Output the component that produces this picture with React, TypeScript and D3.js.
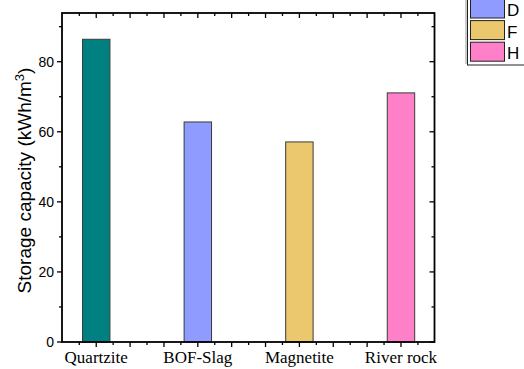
import React from 'react';
import * as d3 from 'd3';

// chart data
const categories = ['Quartzite', 'BOF-Slag', 'Magnetite', 'River rock'];
const capacity = [86.4, 62.8, 57.1, 71.1];
const barColors = ['#008080', '#8f9bff', '#ebc76e', '#ff80c8'];
const yTicks = [0, 20, 40, 60, 80];
const legendLabels = ['D', 'F', 'H'];
const legendColors = ['#8f9bff', '#ebc76e', '#ff80c8'];

const W = 524;
const H = 369;
const frame = { left: 62, top: 13, right: 434.5, bottom: 342 };

export default function App() {
  const x = d3.scaleLinear().domain([0.663, 4.33]).range([frame.left, frame.right]);
  const y = d3.scaleLinear().domain([0, 93.9]).range([frame.bottom, frame.top]);
  const barW = x(1.27) - x(1);

  // x ticks every 1/6 unit, major every 1/3
  const xTickVals = d3.range(0, 22).map(k => 1 + (k - 2) / 6).filter(v => x(v) > frame.left + 1 && x(v) < frame.right - 1);
  const yMinor = d3.range(10, 94, 20);
  const sans = '"Liberation Sans", Arial, sans-serif';
  const serif = '"Liberation Serif", "Times New Roman", serif';

  return (
    <svg width={W} height={H} style={{ position: 'absolute', left: 0, top: 0, background: '#fff' }}>
      {/* bars */}
      {capacity.map((v, i) => (
        <rect key={categories[i]}
          x={x(i + 1) - barW / 2} y={y(v)} width={barW} height={y(0) - y(v)}
          fill={barColors[i]} stroke="#3a3a3a" strokeWidth={1} />
      ))}

      {/* x ticks: bottom outward, top inward */}
      {xTickVals.map((v, k) => {
        const major = Math.abs((v - 1) * 3 - Math.round((v - 1) * 3)) < 1e-6;
        const len = major ? 5 : 3;
        return (
          <g key={'xt' + k} stroke="#000" strokeWidth={1.3}>
            <line x1={x(v)} x2={x(v)} y1={frame.bottom} y2={frame.bottom + len} />
            <line x1={x(v)} x2={x(v)} y1={frame.top} y2={frame.top + len} />
          </g>
        );
      })}

      {/* y ticks: left outward, right inward */}
      {yTicks.map(v => (
        <g key={'yt' + v} stroke="#000" strokeWidth={1.3}>
          <line x1={frame.left - 5} x2={frame.left} y1={y(v)} y2={y(v)} />
          <line x1={frame.right - 5} x2={frame.right} y1={y(v)} y2={y(v)} />
        </g>
      ))}
      {yMinor.map(v => (
        <g key={'ym' + v} stroke="#000" strokeWidth={1.3}>
          <line x1={frame.left - 3} x2={frame.left} y1={y(v)} y2={y(v)} />
          <line x1={frame.right - 3} x2={frame.right} y1={y(v)} y2={y(v)} />
        </g>
      ))}

      {/* frame */}
      <rect x={frame.left} y={frame.top} width={frame.right - frame.left} height={frame.bottom - frame.top}
        fill="none" stroke="#000" strokeWidth={1.8} />

      {/* y tick labels */}
      {yTicks.map(v => (
        <text key={'yl' + v} x={frame.left - 8} y={y(v)} dy="0.36em" textAnchor="end"
          fontFamily={sans} fontSize={14} fill="#000">{v}</text>
      ))}

      {/* category labels */}
      {categories.map((c, i) => (
        <text key={'xl' + c} x={x(i + 1)} y={363} textAnchor="middle"
          fontFamily={serif} fontSize={17} fill="#000">{c}</text>
      ))}

      {/* y axis title */}
      <text transform={`translate(31,${(frame.top + frame.bottom) / 2 + 3}) rotate(-90)`} textAnchor="middle"
        fontFamily={sans} fontSize={19} fill="#000">
        Storage capacity (kWh/m<tspan dy="-7" fontSize={13}>3</tspan><tspan dy="7">)</tspan>
      </text>

      {/* legend, partly outside the view */}
      <g>
        <rect x={467.5} y={-30} width={70} height={95} fill="#fff" stroke="#222" strokeWidth={1} />
        <line x1={466} x2={466} y1={-30} y2={64} stroke="#999" strokeWidth={1} />
        {legendLabels.map((l, i) => {
          const top = -1 + i * 21.6;
          return (
            <g key={'lg' + l}>
              <rect x={470.5} y={top} width={34} height={19} fill={legendColors[i]} stroke="#222" strokeWidth={1} />
              <text x={507} y={top + 17} fontFamily={sans} fontSize={17} fill="#000">{l}</text>
            </g>
          );
        })}
      </g>
    </svg>
  );
}
